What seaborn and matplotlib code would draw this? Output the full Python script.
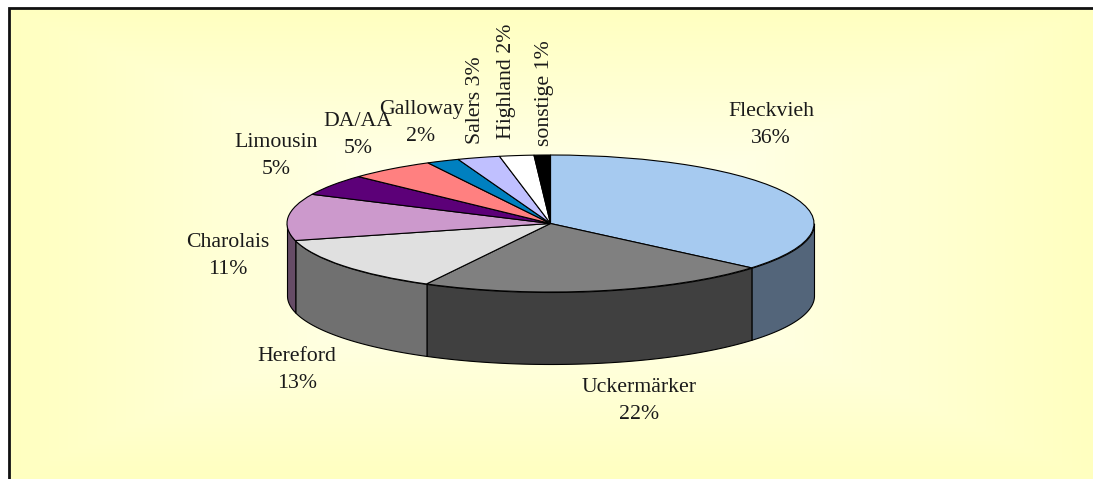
import numpy as np
import matplotlib
matplotlib.use('Agg')
import matplotlib.pyplot as plt
import seaborn as sns

# Data
breeds = ['Fleckvieh', 'Uckermärker', 'Hereford', 'Charolais', 'Limousin',
          'DA/AA', 'Galloway', 'Salers', 'Highland', 'sonstige']
shares = [36.2, 21.6, 13.2, 11, 5, 5.3, 2, 2.6, 2.1, 1.0]
share_labels = ['36%', '22%', '13%', '11%', '5%', '5%', '2%', '3%', '2%', '1%']
top_colors = ['#A6CAF0', '#808080', '#E0E0E0', '#CC99CC', '#5C0078',
              '#FF8080', '#0080C0', '#C0C0FF', '#FFFFFF', '#000000']
side_colors = ['#53657A', '#404040', '#707070', '#664C66', '#2E003C',
               '#804040', '#004060', '#606080', '#808080', '#000000']
# label centres in pixels, rotation
label_x = [771, 639, 297, 228, 276, 358, 421, 475, 506, 544]
label_y = [125, 401, 370, 256, 156, 135, 123, 100, 81, 93]
label_rot = [0, 0, 0, 0, 0, 0, 0, 90, 90, 90]

W, H = 1093, 479

sns.set_theme(style='white')
plt.rcParams['font.family'] = ['Liberation Serif', 'DejaVu Serif']

fig = plt.figure(figsize=(W / 100, H / 100), dpi=100, facecolor='white')

# background panel in pixel coordinates
bg = fig.add_axes([0, 0, 1, 1])
bg.set_xlim(0, W)
bg.set_ylim(H, 0)
bg.axis('off')
xx, yy = np.meshgrid(np.linspace(9, W, 270), np.linspace(8, H, 120))
t = np.maximum(np.abs(xx - 551) / 542, np.abs(yy - 244) / 236)
glow = 240 - 48 * np.clip((t - 0.15) / 0.85, 0, 1)
rgb = np.dstack([np.full_like(glow, 255), np.full_like(glow, 255), glow]) / 255
bg.imshow(rgb, extent=(9, W, H, 8), aspect='auto', interpolation='bilinear')
bg.set_xlim(0, W)
bg.set_ylim(H, 0)
bg.plot([9, 9, W], [H, 8, 8], color='#111111', lw=2, solid_joinstyle='miter')

for i in range(len(breeds)):
    if label_rot[i] == 90:
        txt = breeds[i] + ' ' + share_labels[i]
    else:
        txt = breeds[i] + '\n' + share_labels[i]
    bg.text(label_x[i], label_y[i], txt, ha='center', va='center', fontsize=15.7,
            rotation=label_rot[i], color='#1a1a1a', linespacing=1.64,
            multialignment='center')

# pie: axes box is the bounding box of the top ellipse
left, right, top, bottom = 287, 814, 155, 292
pie_ax = fig.add_axes([left / W, 1 - bottom / H, (right - left) / W, (bottom - top) / H])
wedges, _ = pie_ax.pie(shares, colors=sns.color_palette(top_colors), startangle=90,
                       counterclock=False, radius=1, normalize=True,
                       wedgeprops={'edgecolor': 'black', 'linewidth': 0.8, 'clip_on': False})
pie_ax.set_aspect('auto')
pie_ax.set_xlim(-1, 1)
pie_ax.set_ylim(-1, 1)

# side wall below the front half of the ellipse
depth = 72 / ((bottom - top) / 2)
for wedge, col in zip(wedges, side_colors):
    a1, a2 = wedge.theta1 % 360, wedge.theta2 % 360
    if a2 <= a1:
        a2 += 360
    lo, hi = max(a1, 180), min(a2, 360)
    if hi <= lo:
        continue
    ang = np.radians(np.linspace(lo, hi, 80))
    x, y = np.cos(ang), np.sin(ang)
    pie_ax.fill_between(x, y, y - depth, color=col, ec='black', lw=0.8, clip_on=False, zorder=0.5)

fig.savefig('out.png', dpi=100)
